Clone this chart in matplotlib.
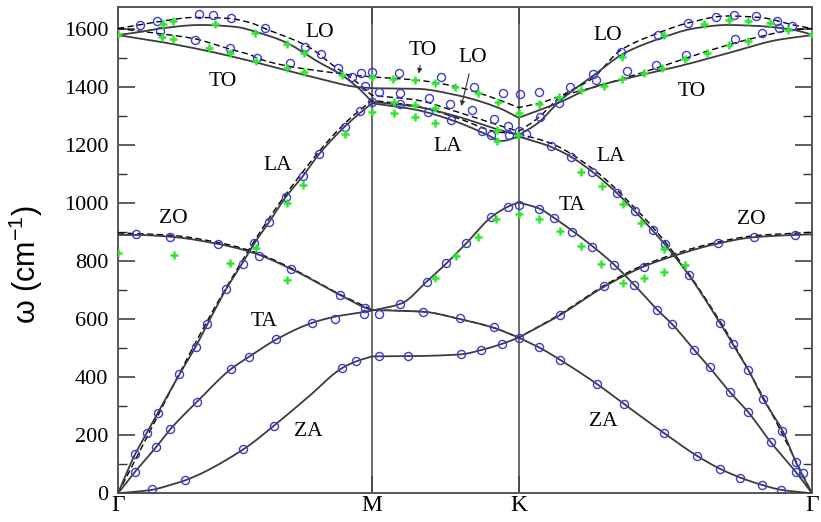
import numpy as np
import matplotlib
matplotlib.use("Agg")
import matplotlib.pyplot as plt

# ---- high-symmetry path  Γ - M - K - Γ  (path length in units of ΓM) ----
Q_M = 1.0
Q_K = 1.5774
Q_END = 2.7321
TICK_POS = [0.0, Q_M, Q_K, Q_END]
TICK_LABELS = ["Γ", "M", "K", "Γ"]

# ---- calculated dispersion, full lines (q, ω in cm^-1) ----
ZA_Q = [0, 0.134, 0.2, 0.263, 0.491, 0.614, 0.75, 0.881, 0.938, 1.0, 1.156, 1.349, 1.430, 1.511, 1.5774,
        1.658, 1.741, 1.887, 1.992, 2.149, 2.280, 2.371, 2.450, 2.535, 2.610, 2.7321]
ZA_W = [0, 12, 27, 44, 150, 233, 333, 431, 455, 472, 473, 479, 494, 515, 537,
        503, 460, 376, 308, 208, 129, 84, 54, 29, 12, 0]

TA_Q = [0, 0.067, 0.150, 0.206, 0.312, 0.444, 0.517, 0.624, 0.762, 0.854, 0.967, 1.0,
        1.117, 1.215, 1.293, 1.371, 1.469, 1.534, 1.5774,
        1.658, 1.717, 1.789, 1.868, 1.953, 2.031, 2.123, 2.182, 2.269, 2.329, 2.408, 2.482, 2.570, 2.670, 2.7321]
TA_W = [0, 74, 159, 221, 316, 428, 471, 531, 587, 609, 625, 630,
        655, 730, 793, 862, 952, 988, 1003,
        982, 950, 905, 852, 789, 720, 633, 583, 494, 434, 350, 279, 176, 72, 0]

ZO_Q = [0, 0.071, 0.204, 0.394, 0.537, 0.683, 0.874, 0.973, 1.0, 1.202, 1.345, 1.482, 1.5774,
        1.741, 1.913, 2.070, 2.175, 2.365, 2.502, 2.666, 2.7321]
ZO_W = [891, 891, 885, 860, 828, 773, 684, 640, 632, 626, 601, 570, 537,
        615, 712, 782, 815, 862, 883, 891, 893]

LA_Q = [0, 0.067, 0.114, 0.156, 0.242, 0.306, 0.352, 0.425, 0.488, 0.540, 0.596, 0.660, 0.729, 0.791,
        0.892, 0.951, 1.0, 1.176, 1.333, 1.45, 1.51, 1.5774,
        1.704, 1.782, 1.867, 1.966, 2.037, 2.103, 2.155, 2.247, 2.371, 2.421, 2.482, 2.541, 2.616, 2.668, 2.7321]
LA_W = [0, 134, 209, 276, 410, 506, 583, 703, 791, 866, 937, 1021, 1095, 1169,
        1264, 1310, 1345, 1322, 1281, 1238, 1215, 1230,
        1195, 1161, 1109, 1034, 971, 908, 856, 753, 586, 514, 425, 324, 216, 109, 0]

LO_Q = [0, 0.08, 0.166, 0.325, 0.458, 0.563, 0.656, 0.788, 0.881, 0.947, 1.0,
        1.176, 1.333, 1.502, 1.5774,
        1.652, 1.743, 1.874, 1.992, 2.136, 2.267, 2.398, 2.528, 2.659, 2.7321]
LO_W = [1580, 1590, 1603, 1615, 1609, 1586, 1557, 1488, 1442, 1397, 1350,
        1333, 1300, 1253, 1235,
        1276, 1356, 1442, 1517, 1569, 1603, 1615, 1611, 1598, 1582]

TO_Q = [0, 0.166, 0.365, 0.497, 0.683, 0.815, 0.933, 1.0, 1.176, 1.333, 1.502, 1.5774,
        1.743, 1.860, 2.005, 2.201, 2.398, 2.594, 2.7321]
TO_W = [1580, 1557, 1523, 1496, 1454, 1425, 1402, 1397, 1395, 1373, 1328, 1295,
        1350, 1397, 1431, 1471, 1517, 1563, 1580]

# ---- second calculation, dashed lines ----
LOD_Q = [0, 0.080, 0.166, 0.299, 0.431, 0.524, 0.577, 0.749, 0.854, 0.921, 1.0,
         1.176, 1.333, 1.502, 1.5774,
         1.652, 1.743, 1.868, 1.979, 2.123, 2.240, 2.398, 2.528, 2.659, 2.7321]
LOD_W = [1603, 1615, 1627, 1641, 1638, 1622, 1603, 1540, 1471, 1431, 1372,
         1356, 1316, 1268, 1248,
         1293, 1368, 1431, 1528, 1586, 1621, 1646, 1641, 1615, 1603]

TOD_Q = [0, 0.167, 0.299, 0.431, 0.524, 0.550, 0.683, 0.815, 0.921, 1.0,
         1.176, 1.333, 1.502, 1.5774,
         1.658, 1.743, 1.860, 1.95, 2.136, 2.332, 2.528, 2.659, 2.7321]
TOD_W = [1603, 1585, 1568, 1534, 1511, 1500, 1471, 1454, 1442, 1436,
         1425, 1402, 1356, 1330,
         1345, 1370, 1397, 1420, 1471, 1528, 1575, 1598, 1603]

LAD_Q = [0, 0.425, 0.660, 0.892, 1.0, 1.176, 1.333, 1.502, 1.5774,
         1.704, 1.867, 2.037, 2.155, 2.371, 2.541, 2.7321]
LAD_W = [0, 708, 1030, 1275, 1355, 1335, 1295, 1245, 1240,
         1207, 1120, 982, 866, 592, 330, 0]

ZOD_Q = [0, 0.204, 0.394, 0.537, 0.683, 0.874, 1.0, 1.202, 1.345, 1.482, 1.5774,
         1.741, 1.913, 2.070, 2.365, 2.502, 2.666, 2.7321]
ZOD_W = [898, 890, 865, 832, 776, 686, 633, 626, 601, 570, 537,
         618, 716, 787, 867, 888, 897, 900]

# ---- measured points: open circles ----
CIRC_Q = [0.134, 0.263, 0.491, 0.614, 0.881, 0.938, 1.026, 1.141, 1.349, 1.430, 1.511, 1.577,
          1.658, 1.741, 1.887, 1.992, 2.149, 2.280, 2.371, 2.450, 2.535, 2.610,
          0.067, 0.150, 0.206, 0.312, 0.444, 0.517, 0.624, 0.762, 0.854, 0.967, 1.026,
          0.071, 0.204, 0.394, 0.557, 0.683, 0.874, 0.973,
          0.067, 0.114, 0.156, 0.242, 0.306, 0.352, 0.425, 0.491, 0.537, 0.596, 0.660, 0.729, 0.791, 0.892, 0.951,
          1.111, 1.215, 1.293, 1.371, 1.469, 1.534, 1.580,
          1.202, 1.345, 1.482,
          1.658, 1.717, 1.789, 1.868, 1.953, 2.031, 2.123, 2.182, 2.269, 2.329, 2.408, 2.482, 2.570, 2.670,
          1.741, 1.913, 2.070, 2.364, 2.502, 2.666,
          1.704, 1.783, 1.868, 1.966, 2.034, 2.107, 2.155, 2.247, 2.371, 2.421, 2.482, 2.541, 2.616, 2.668, 2.698,
          0.085, 0.154, 0.167, 0.317, 0.376, 0.444, 0.303, 0.440, 0.577, 0.549, 0.676, 0.737, 0.798, 0.866,
          0.921, 0.956, 1.0, 0.972, 1.026, 1.0,
          1.108, 1.271, 1.403, 1.516, 1.582, 1.111, 1.225, 1.308, 1.392, 1.480, 1.534, 1.577, 1.607,
          1.111, 1.221, 1.313, 1.432, 1.469, 1.541,
          1.658, 1.781, 1.871, 1.980, 2.124, 2.243, 2.353, 2.425, 2.510, 2.594, 2.604, 2.655,
          1.662, 1.735, 1.882, 2.005, 2.119, 2.237, 2.428, 2.537]
CIRC_W = [14, 46, 153, 233, 431, 456, 474, 474, 479, 494, 515, 537,
          503, 460, 376, 308, 208, 129, 84, 54, 29, 12,
          74, 159, 221, 316, 428, 471, 531, 586, 601, 617, 618,
          893, 885, 860, 818, 773, 684, 640,
          134, 209, 276, 410, 506, 583, 703, 791, 864, 937, 1021, 1095, 1169, 1264, 1318,
          652, 730, 793, 862, 952, 986, 994,
          626, 603, 574,
          979, 948, 902, 850, 787, 718, 632, 583, 494, 434, 350, 279, 176, 72,
          615, 715, 781, 862, 883, 891,
          1197, 1159, 1109, 1034, 974, 908, 859, 753, 586, 514, 425, 324, 216, 109, 69,
          1615, 1630, 1594, 1652, 1648, 1640, 1564, 1534, 1606, 1500, 1483, 1540, 1516, 1465,
          1434, 1450, 1452, 1404, 1385, 1350,
          1450, 1435, 1402, 1380, 1376, 1381, 1362, 1343, 1322, 1290, 1266, 1251, 1239,
          1342, 1315, 1288, 1249, 1235, 1234,
          1385, 1400, 1447, 1523, 1581, 1622, 1641, 1648, 1645, 1629, 1603, 1611,
          1299, 1347, 1425, 1455, 1477, 1511, 1565, 1588]

# ---- measured points: plus markers ----
PLUS_Q = [0.0, 0.177, 0.217, 0.383, 0.540, 0.667, 0.731, 0.881,
          0.173, 0.218, 0.359, 0.441, 0.544, 0.667, 0.731, 1.0, 1.0,
          1.081, 1.169, 1.247, 1.327, 1.417, 1.498, 1.579,
          1.085, 1.169, 1.247, 1.494, 1.573,
          1.085, 1.169, 1.247, 1.494,
          1.658, 1.737, 1.822, 1.913, 1.985, 2.070, 2.142, 2.234, 2.319, 2.404, 2.482,
          1.985, 2.149, 2.306, 2.404, 2.482, 2.567, 2.639, 2.731,
          1.247, 1.332, 1.417, 1.490, 1.577,
          1.658, 1.741, 1.822, 1.902, 1.990, 2.070, 2.151, 2.234,
          1.822, 1.907, 1.990, 2.058, 2.149,
          0.0, 0.219, 0.442, 0.667, 0.544, 0.667, 0.729, 0.892]
PLUS_W = [1584, 1618, 1627, 1617, 1586, 1550, 1519, 1442,
          1573, 1567, 1537, 1518, 1491, 1467, 1454, 1434, 1314,
          1428, 1425, 1415, 1400, 1379, 1349, 1310,
          1350, 1340, 1327, 1254, 1235,
          1312, 1298, 1276, 1215,
          1342, 1365, 1391, 1404, 1427, 1448, 1465, 1497, 1517, 1546, 1560,
          1503, 1580, 1618, 1632, 1630, 1621, 1597, 1584,
          741, 818, 885, 945, 963,
          945, 905, 853, 791, 724, 743, 764, 787,
          1109, 1061, 998, 933, 842,
          828, 822, 795, 736, 845, 1002, 1063, 1239]

# ---- branch labels ----
LABEL_TEXT = ["LO", "TO", "TO", "LO", "LA", "LO", "TO", "LA", "TA", "ZO", "LA", "ZO", "TA", "ZA", "ZA"]
LABEL_Q = [0.794, 0.411, 1.199, 1.395, 1.297, 1.927, 2.260, 1.940, 1.789, 2.494, 0.630, 0.219, 0.577, 0.749, 1.911]
LABEL_W = [1590, 1419, 1528, 1504, 1195, 1580, 1385, 1161, 994, 945, 1132, 948, 592, 212, 247]


def pchip(x, y, xn):
    """Shape-preserving cubic through the given nodes."""
    x = np.asarray(x, float)
    y = np.asarray(y, float)
    if len(x) < 3:
        return np.interp(xn, x, y)
    h = np.diff(x)
    d = np.diff(y) / h
    m = np.zeros_like(y)
    m[0], m[-1] = d[0], d[-1]
    for k in range(1, len(x) - 1):
        if d[k - 1] * d[k] <= 0:
            m[k] = 0.0
        else:
            w1 = 2 * h[k] + h[k - 1]
            w2 = h[k] + 2 * h[k - 1]
            m[k] = (w1 + w2) / (w1 / d[k - 1] + w2 / d[k])
    idx = np.clip(np.searchsorted(x, xn) - 1, 0, len(x) - 2)
    t = (xn - x[idx]) / h[idx]
    h00 = 2 * t**3 - 3 * t**2 + 1
    h10 = t**3 - 2 * t**2 + t
    h01 = -2 * t**3 + 3 * t**2
    h11 = t**3 - t**2
    return h00 * y[idx] + h10 * h[idx] * m[idx] + h01 * y[idx + 1] + h11 * h[idx] * m[idx + 1]


def branch_curve(q, w):
    """Smooth each Γ-M, M-K, K-Γ piece separately (kinks allowed at M and K)."""
    q = np.asarray(q, float)
    w = np.asarray(w, float)
    bounds = [(0.0, Q_M), (Q_M, Q_K), (Q_K, Q_END)]
    xs, ys = [], []
    for a, b in bounds:
        sel = (q >= a - 1e-6) & (q <= b + 1e-6)
        if sel.sum() < 2:
            continue
        qq, ww = q[sel], w[sel]
        xn = np.linspace(qq[0], qq[-1], 200)
        xs.append(xn)
        ys.append(pchip(qq, ww, xn))
    return np.concatenate(xs), np.concatenate(ys)


plt.rcParams["mathtext.fontset"] = "custom"
plt.rcParams["mathtext.rm"] = "Liberation Sans"
plt.rcParams["mathtext.it"] = "Liberation Sans:italic"

fig = plt.figure(figsize=(8.21, 5.22), dpi=100)
ax = fig.add_axes([0.1437, 0.055, 0.8453, 0.9316])

solid_kw = dict(color="#3c3c3c", lw=1.3, zorder=3)
dash_kw = dict(color="black", lw=1.0, dashes=(4.5, 2.5), zorder=3)

for q, w in [(LOD_Q, LOD_W), (TOD_Q, TOD_W), (LAD_Q, LAD_W), (ZOD_Q, ZOD_W)]:
    xx, yy = branch_curve(q, w)
    ax.plot(xx, yy, **dash_kw)

for q, w in [(ZA_Q, ZA_W), (TA_Q, TA_W), (ZO_Q, ZO_W), (LA_Q, LA_W), (LO_Q, LO_W), (TO_Q, TO_W)]:
    xx, yy = branch_curve(q, w)
    ax.plot(xx, yy, **solid_kw)

ax.plot(CIRC_Q, CIRC_W, ls="none", marker="o", ms=5.8, mfc="none", mec="#3c3cd2", mew=1.0, zorder=4)
ax.plot(PLUS_Q, PLUS_W, ls="none", marker="+", ms=6.0, mec="#2ee82e", mew=1.8, zorder=5)

for x in (Q_M, Q_K):
    ax.axvline(x, color="#444444", lw=1.1, zorder=2)

for txt, x, y in zip(LABEL_TEXT, LABEL_Q, LABEL_W):
    ax.text(x, y, txt, ha="center", va="center", fontsize=15.5, family="Liberation Serif", zorder=6)

arrow_kw = dict(arrowstyle="-|>", color="#333333", lw=0.8, mutation_scale=7)
ax.annotate("", xy=(1.182, 1438), xytext=(1.192, 1485), arrowprops=arrow_kw, zorder=6)
ax.annotate("", xy=(1.349, 1326), xytext=(1.385, 1456), arrowprops=arrow_kw, zorder=6)

ax.set_xlim(0, Q_END)
ax.set_ylim(0, 1677)
ax.set_xticks(TICK_POS)
ax.set_xticklabels(TICK_LABELS, family="Liberation Serif", fontsize=17)
ax.set_yticks(np.arange(0, 1601, 200))
ax.set_yticks(np.arange(100, 1700, 200), minor=True)
ax.set_yticklabels([str(v) for v in range(0, 1601, 200)], family="Liberation Serif", fontsize=16)
ax.tick_params(axis="y", which="major", direction="in", length=12, width=1.1, right=True, pad=7, color="#333333")
ax.tick_params(axis="y", which="minor", direction="in", length=6.5, width=1.0, right=True, color="#333333")
ax.tick_params(axis="x", which="major", direction="in", length=12, width=1.1, top=True, pad=1.5, color="#333333")

for s in ax.spines.values():
    s.set_color("#555555")
    s.set_linewidth(1.4)

ax.set_ylabel("ω (cm$^{-1}$)", family="Liberation Sans", fontsize=22, labelpad=6)
ax.yaxis.set_label_coords(-0.105, 0.47)

fig.savefig("out.png", dpi=100)
